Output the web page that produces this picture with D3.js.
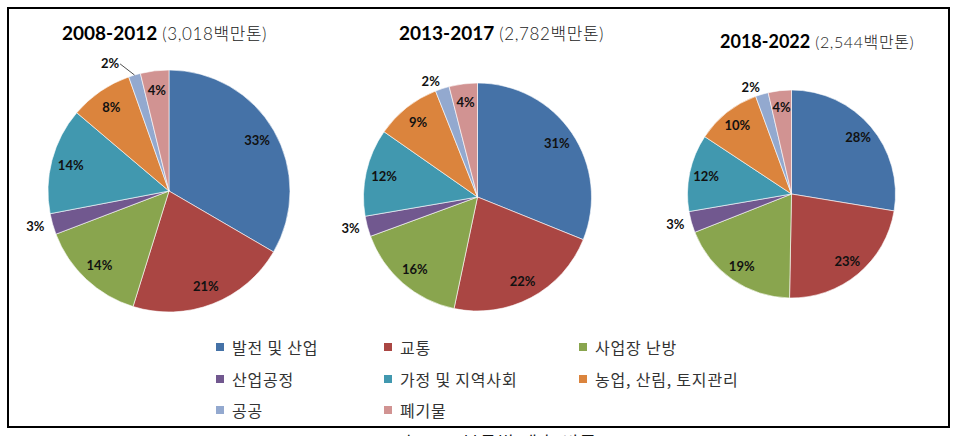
<!DOCTYPE html>
<html><head><meta charset="utf-8">
<script src="https://cdn.jsdelivr.net/npm/d3@7"></script>
<style>
html,body{margin:0;padding:0;background:#fff;}
svg{display:block;}
</style></head>
<body>
<svg id="chart" width="960" height="436"></svg>
<script>
// ---- data ----
const categories = ["발전 및 산업","교통","사업장 난방","산업공정","가정 및 지역사회","농업, 산림, 토지관리","공공","폐기물"];
const periods = ["2008-2012","2013-2017","2018-2022"];
const totals = ["3,018","2,782","2,544"];
const shares2008 = [33.4, 21.4, 14.4, 2.8, 14.2, 8.4, 1.6, 3.8];
const shares2013 = [31.1, 22.2, 16.1, 2.9, 12.4, 9.3, 2.0, 4.0];
const shares2018 = [27.6, 22.7, 18.7, 3.3, 12.0, 10.1, 2.0, 3.6];
const colors = ["#4572A7","#AA4643","#89A54E","#71588F","#4198AF","#DB843D","#93A9CF","#D19392"];
const caption = "그림 3-5. 부문별 배출 비중";

const seriesList = [shares2008, shares2013, shares2018];

// ---- layout ----
const svg = d3.select("#chart");
const pies = [
  {cx:169, cy:191, r:121, tx:62, ty:40, fs:19},
  {cx:477.5, cy:197, r:114, tx:399, ty:40, fs:19},
  {cx:791.5, cy:194, r:104, tx:720, ty:48, fs:18}
];
const color = d3.scaleOrdinal().domain(categories).range(colors);
const pieGen = d3.pie().sort(null).value(d => d.v);

seriesList.forEach((vals, pi) => {
  const P = pies[pi];
  const g = svg.append("g").attr("transform", `translate(${P.cx},${P.cy})`);
  const data = pieGen(vals.map((v,i)=>({v, c:categories[i]})));
  const arc = d3.arc().innerRadius(0).outerRadius(P.r);
  g.selectAll("path").data(data).join("path")
    .attr("d", arc)
    .attr("fill", d => color(d.data.c))
    .attr("stroke", "#fff").attr("stroke-width", 0.6);

  data.forEach((d, i) => {
    const mid = (d.startAngle + d.endAngle) / 2;
    const label = Math.round(d.data.v) + "%";
    const s = Math.sin(mid), c = -Math.cos(mid);
    if (d.data.v >= 3.5) {
      const rr = P.r * 0.84;
      g.append("text").attr("x", s*rr).attr("y", c*rr)
        .attr("text-anchor","middle").attr("dominant-baseline","central")
        .attr("font-family","Lato, 'Noto Sans', sans-serif").attr("font-weight","bold")
        .attr("font-size", 13).attr("fill","#111").text(label);
    } else {
      let rr = P.r * 1.07;
      let x = s*rr, y = c*rr;
      const moved = (pi === 0 && i === 6);
      if (moved) { x -= 13; y -= 4; }
      g.append("text").attr("x", x).attr("y", y)
        .attr("text-anchor","end").attr("dominant-baseline","central")
        .attr("font-family","Lato, 'Noto Sans', sans-serif").attr("font-weight","bold")
        .attr("font-size", 13).attr("fill","#111").text(label);
      if (moved) {
        g.append("line").attr("x1", x+1).attr("y1", y+1)
          .attr("x2", s*P.r).attr("y2", c*P.r)
          .attr("stroke","#222").attr("stroke-width",0.8);
      }
    }
  });

  const t = svg.append("text").attr("x", P.tx).attr("y", P.ty)
    .attr("font-family","Lato, 'Noto Sans CJK KR', sans-serif");
  t.append("tspan").attr("font-weight","bold").attr("font-size", P.fs).attr("fill","#000").text(periods[pi]);
  t.append("tspan").attr("font-weight","300").attr("font-size", P.fs-2).attr("fill","#222")
    .attr("dx", 5).attr("letter-spacing", 0.6).text(`(${totals[pi]}백만톤)`);
});

// ---- legend ----
const legCols = [220, 388, 583], legRows = [347, 379, 410];
const leg = svg.append("g");
categories.forEach((c, i) => {
  const x = legCols[i % 3], y = legRows[Math.floor(i / 3)];
  leg.append("rect").attr("x", x-4).attr("y", y-4).attr("width", 8).attr("height", 8).attr("fill", color(c));
  leg.append("text").attr("x", x+12).attr("y", y).attr("dominant-baseline","central")
    .attr("font-family","'Noto Sans CJK KR', sans-serif").attr("font-size", 16)
    .attr("letter-spacing", 0.8)
    .attr("fill","#333").text(c);
});

// ---- frame ----
svg.append("rect").attr("x", 8).attr("y", 8).attr("width", 941).attr("height", 419)
  .attr("fill","none").attr("stroke","#000").attr("stroke-width", 2);

// ---- caption (cut off at the bottom, as in the source) ----
svg.append("text").attr("x", 488).attr("y", 449).attr("text-anchor","middle")
  .attr("font-family","'Noto Sans CJK KR', sans-serif").attr("font-size", 17)
  .attr("letter-spacing", 2)
  .attr("fill","#111").text(caption);
</script>
</body></html>
